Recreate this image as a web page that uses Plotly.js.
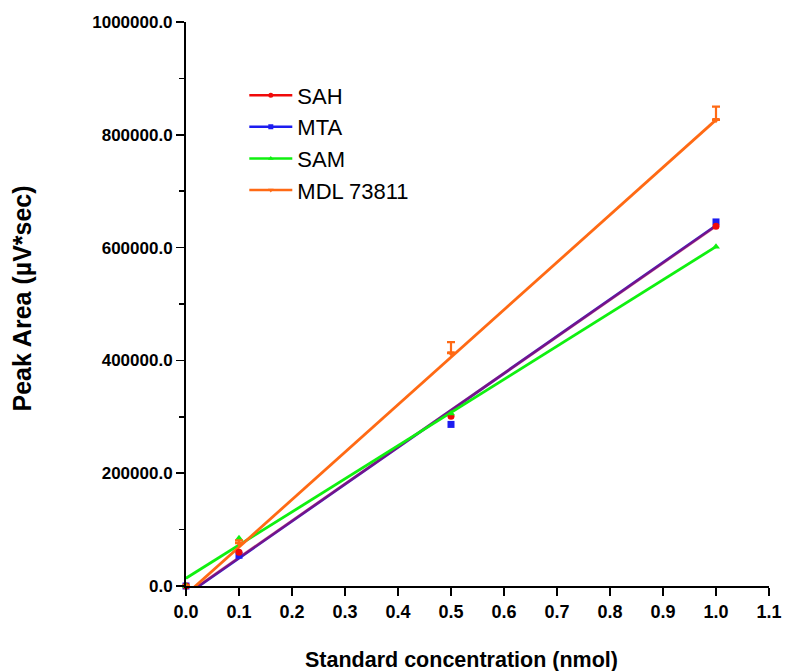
<!DOCTYPE html>
<html>
<head>
<meta charset="utf-8">
<script src="https://cdn.plot.ly/plotly-3.0.1.min.js"></script>
<style>html,body{margin:0;padding:0;background:#fff;}#chart{width:787px;height:671px;}</style>
</head>
<body>
<div id="chart"></div>
<script>
// Data
const seriesNames = ["SAH", "MTA", "SAM", "MDL 73811"];
const concentration = [0, 0.1, 0.5, 1.0];
const sahArea = [0, 60000, 301000, 638000];
const mtaArea = [0, 54500, 286500, 645500];
const samArea = [0, 84500, 306000, 601500];
const mdlArea = [0, 76000, 413000, 826500];
const mdlError = [0, 5000, 19500, 23500];
const zeroError = [0, 0, 0, 0];
// Linear regression lines as drawn (slope, intercept) per series
const fitSlope = [653000, 655000, 588000, 841500];
const fitIntercept = [-15000, -16000, 13700, -15100];
const fitRange = [0, 1.0];

const colors = ["#f00a0a", "#1c1cf0", "#10f010", "#ff6a14"];
const lineColors = ["rgba(255,0,0,0.38)", "#2020e0", "#10f010", "#ff6a14"];
const symbols = ["circle", "square", "triangle-up", "triangle-down"];
const values = [sahArea, mtaArea, samArea, mdlArea];

const traces = [];
// fit lines (blue first so red overlays to purple)
[1, 0, 2, 3].forEach(i => {
  traces.push({
    x: fitRange,
    y: fitRange.map(x => fitSlope[i] * x + fitIntercept[i]),
    mode: "lines",
    line: {color: lineColors[i], width: 2.8},
    showlegend: false,
    hoverinfo: "skip"
  });
});
// data points
[1, 0, 2, 3].forEach(i => {
  const t = {
    x: concentration,
    y: values[i],
    mode: "markers",
    marker: {color: colors[i], symbol: symbols[i], size: 7},
    showlegend: false,
    cliponaxis: false
  };
  if (i === 3) {
    t.error_y = {type: "data", symmetric: false, array: mdlError, arrayminus: zeroError,
                 visible: true, color: colors[i], thickness: 2.2, width: 4};
  }
  traces.push(t);
});
// legend entries
[0, 1, 2, 3].forEach(i => {
  traces.push({
    x: [null], y: [null],
    name: seriesNames[i],
    legendgroup: "g" + i,
    mode: "lines+markers",
    line: {color: colors[i], width: 2.5},
    marker: {color: colors[i], symbol: symbols[i], size: 5}
  });
});

const bold = "Liberation Sans, Arial, sans-serif";
const layout = {
  width: 787, height: 671,
  margin: {l: 186, r: 18, t: 22, b: 85},
  paper_bgcolor: "#fff", plot_bgcolor: "#fff",
  font: {family: bold, color: "#000"},
  showlegend: true,
  legend: {
    x: 0.1, y: 0.907, xanchor: "left", yanchor: "top",
    font: {size: 22, color: "#000"},
    tracegroupgap: 0,
    itemwidth: 43,
    bgcolor: "rgba(0,0,0,0)"
  },
  xaxis: {
    range: [0, 1.1], dtick: 0.1, tick0: 0,
    tickformat: ".1f",
    showgrid: false, zeroline: false,
    showline: true, linecolor: "#000", linewidth: 2,
    ticks: "outside", ticklen: 8, tickwidth: 1.5, tickcolor: "#000",
    tickfont: {size: 18, family: bold, weight: "bold"}
  },
  yaxis: {
    range: [0, 1000000], dtick: 200000, tick0: 0,
    tickformat: ".1f",
    showgrid: false, zeroline: false,
    showline: true, linecolor: "#000", linewidth: 2,
    ticks: "outside", ticklen: 8, tickwidth: 1.5, tickcolor: "#000",
    tickfont: {size: 17, family: bold, weight: "bold"},
    minor: {dtick: 100000, ticks: "outside", ticklen: 5, tickwidth: 1.5, tickcolor: "#000", showgrid: false}
  },
  annotations: [
    {text: "<b>Standard concentration (nmol)</b>", xref: "paper", yref: "paper",
     x: 0.473, y: -0.132, xanchor: "center", yanchor: "middle", showarrow: false,
     font: {size: 21.5, family: bold, color: "#000"}},
    {text: "<b>Peak Area (µV*sec)</b>", xref: "paper", yref: "paper", textangle: -90,
     x: -0.281, y: 0.51, xanchor: "center", yanchor: "middle", showarrow: false,
     font: {size: 25, family: bold, color: "#000"}}
  ]
};

Plotly.newPlot("chart", traces, layout, {displayModeBar: false, staticPlot: true});
</script>
</body>
</html>
